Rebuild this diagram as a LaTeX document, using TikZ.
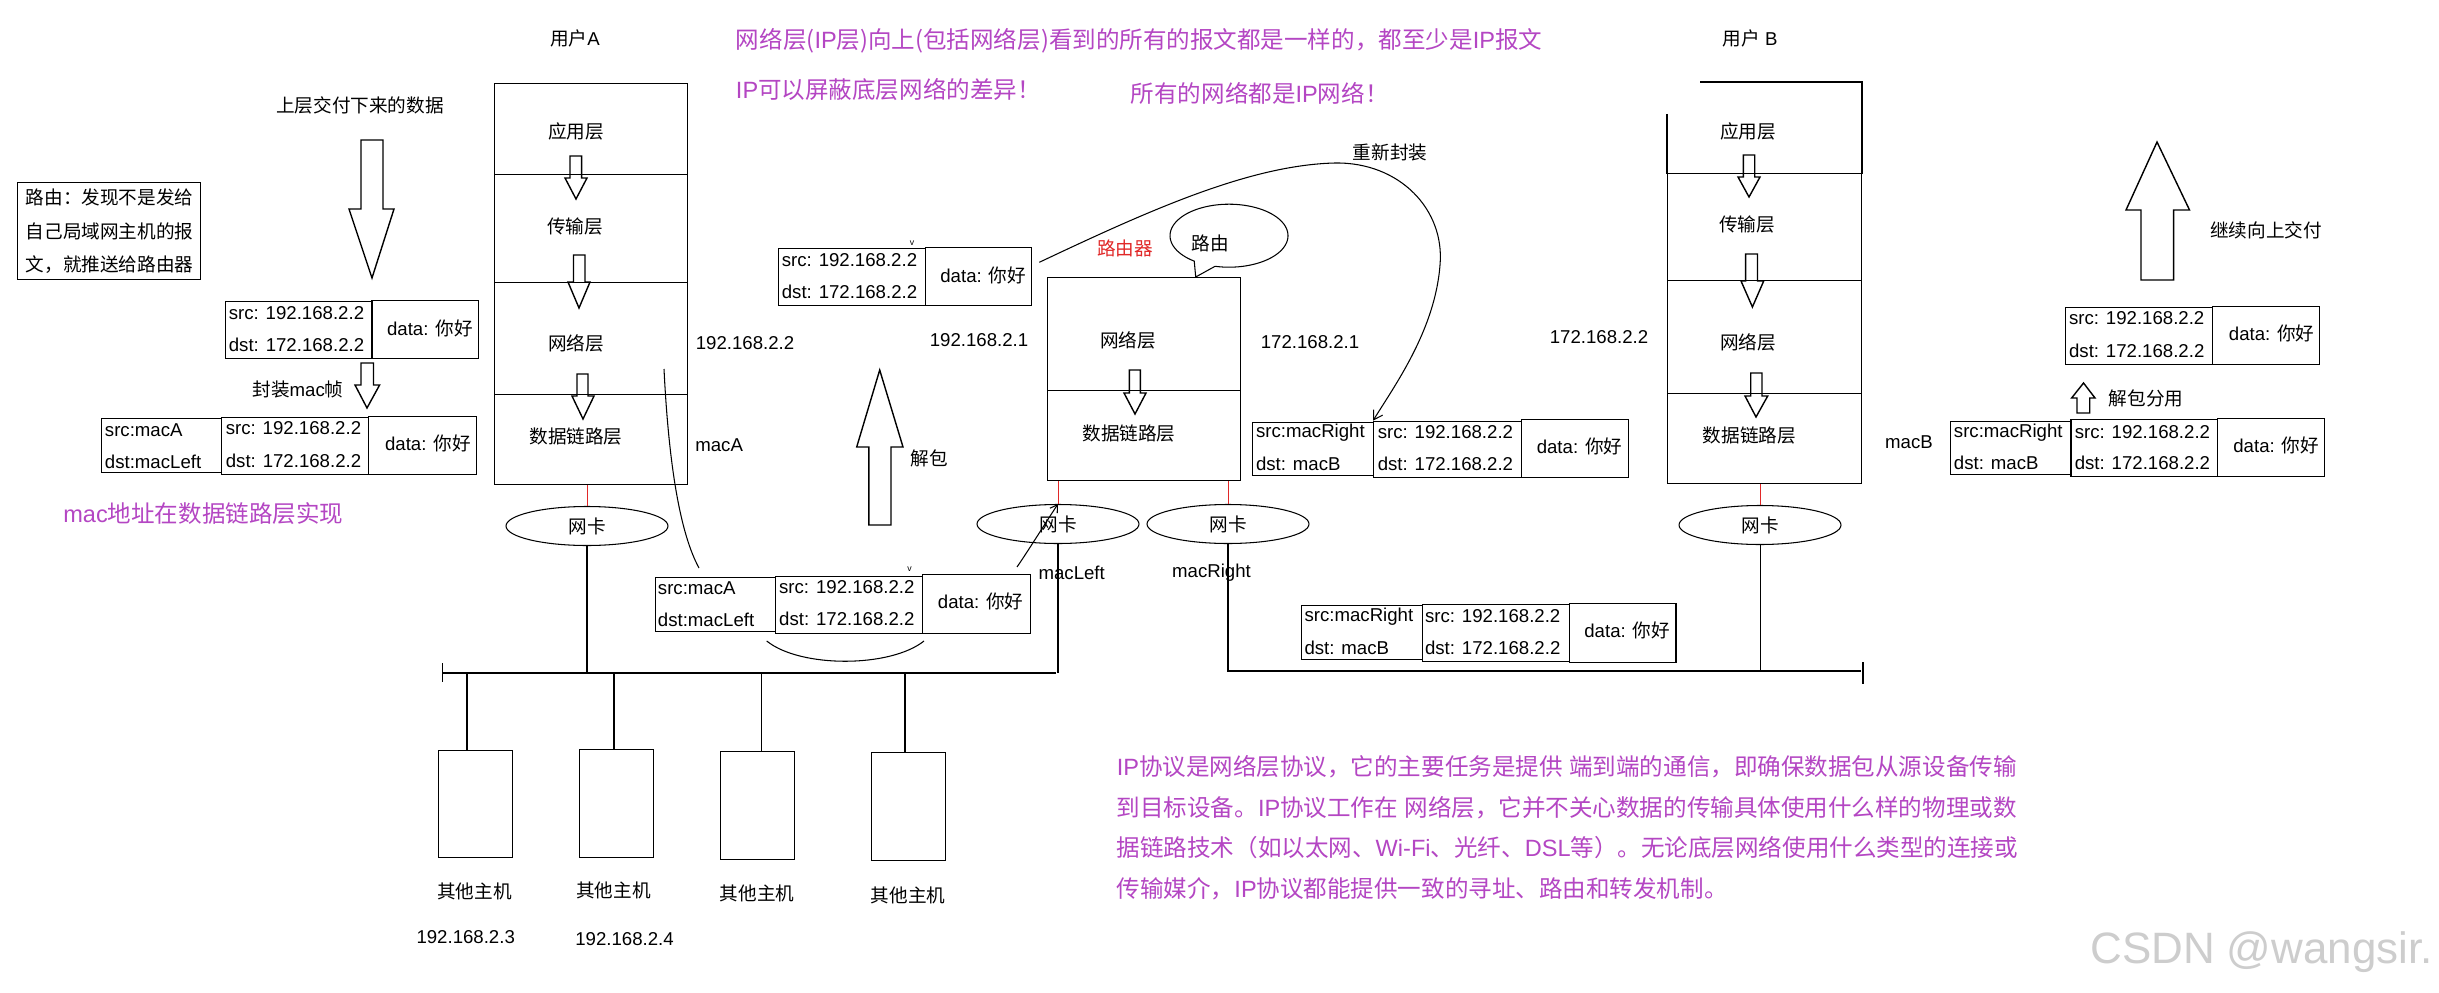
\documentclass[tikz,border=0pt]{standalone}
\usepackage{fontspec}
\setmainfont{Liberation Sans}
\newfontfamily\cjk{Noto Sans CJK SC}
\newcommand\zh[1]{{\cjk #1}}
\usetikzlibrary{shapes.geometric,arrows.meta}
\definecolor{mag}{RGB}{180,70,195}
\definecolor{rred}{RGB}{225,40,40}
\definecolor{wmk}{RGB}{205,205,205}
\newcommand\cellR[5]{\node[box,minimum width={(#4-#2)*0.02cm},minimum height={(#5-#3)*0.02cm}] (#1) at (#2,#3) {};}
\newcommand\blkarrow[8]{\draw[ln] (#1,#3) -- (#2,#3) -- (#2,#4) -- (#6,#4) -- (#7,#8) -- (#5,#4) -- (#1,#4) -- cycle;}
\begin{document}
\begin{tikzpicture}[x=0.02cm,y=-0.02cm,
  ln/.style={line width=0.8pt},
  thinln/.style={line width=0.6pt},
  box/.style={draw,line width=0.8pt,inner sep=0pt,anchor=north west},
  txt/.style={font=\fontsize{10.6}{13}\selectfont,inner sep=0pt},
  lt/.style={txt,anchor=west},
  ttl/.style={font=\fontsize{13.4}{16}\selectfont,text=mag,inner sep=0pt,anchor=west},
  nic/.style={ellipse,draw,line width=0.6pt,minimum width=3.24cm,minimum height=0.78cm,inner sep=0pt,font=\fontsize{10.6}{13}\selectfont},
  redln/.style={draw=rred,line width=0.5pt},
  barb/.style={-{Straight Barb[length=5pt,width=6pt]}},
  barbs/.style={-{Straight Barb[length=4pt,width=5pt]}}
]
\fill[white] (0,0) rectangle (2439,993);
\useasboundingbox (0,0) rectangle (2439,993);

% ---------- titles ----------
\node[ttl] (t1) at (735.6,41) {\zh{网络层(}IP\zh{层)向上(包括网络层)看到的所有的报文都是一样的，都至少是}IP\zh{报文}};
\node[ttl] (t2) at (735.6,90) {IP\zh{可以屏蔽底层网络的差异！}};
\node[ttl] (t3) at (1130.5,93) {\zh{所有的网络都是}IP\zh{网络！}};
\node[ttl] (t4) at (63,514) {mac\zh{地址在数据链路层实现}};

% ---------- user labels ----------
\node[txt] (uA) at (575,38) {\zh{用户}A};
\node[txt] (uB) at (1750,38) {\zh{用户} B};
\node[txt] (down) at (360,105) {\zh{上层交付下来的数据}};

% ---------- routing note ----------
\cellR{rt}{17}{182}{200}{279}
\node[lt,align=left,font=\fontsize{10.6}{19}\selectfont] (rtxt) at (25.5,231.5) {\zh{路由：发现不是发给}\\\zh{自己局域网主机的报}\\\zh{文，就推送给路由器}};

% ---------- big arrows ----------
\blkarrow{361}{383}{140}{209}{349}{394}{372}{278}
\blkarrow{361}{373.5}{363}{385}{355}{379.6}{367}{408}
\node[txt] (fz) at (298,389) {\zh{封装}mac\zh{帧}};
\blkarrow{868.8}{891}{525}{447}{856.7}{903}{879.7}{370}
\node[txt] (jb) at (929,458) {\zh{解包}};
\blkarrow{2141}{2173.6}{280}{210}{2126}{2189.5}{2157}{142}
\node[txt] (jx) at (2266,230) {\zh{继续向上交付}};
\blkarrow{2077}{2089.7}{413}{398}{2071.6}{2095}{2083.5}{383}
\node[txt] (jbf) at (2146,398) {\zh{解包分用}};

% ---------- user A stack ----------
\cellR{a1}{494}{83}{687}{174}
\cellR{a2}{494}{174}{687}{282}
\cellR{a3}{494}{282}{687}{394}
\cellR{a4}{494}{394}{687}{484}
\blkarrow{570}{581.6}{156}{178}{565}{587}{576}{199}
\blkarrow{573.5}{585}{255}{282}{568}{590}{579}{308}
\blkarrow{577}{588}{374}{396}{572}{594}{583}{419}
\node[txt] (la1) at (576,131) {\zh{应用层}};
\node[txt] (la2) at (575,226) {\zh{传输层}};
\node[txt] (la3) at (576,343) {\zh{网络层}};
\node[txt] (la4) at (576,436) {\zh{数据链路层}};
\node[txt] (ipA) at (745,343) {192.168.2.2};
\node[lt] (macA) at (695,445) {macA};

% ---------- router ----------
\cellR{r1}{1046.7}{277}{1239.6}{390}
\cellR{r2}{1046.7}{390}{1239.6}{480}
\blkarrow{1129.4}{1140.3}{370}{393}{1124}{1146}{1135}{414}
\node[txt] (lr1) at (1128,340) {\zh{网络层}};
\node[txt] (lr2) at (1129,433) {\zh{数据链路层}};
\node[txt,text=rred] (lrt) at (1125,248) {\zh{路由器}};
\coordinate (bt) at (1195.7,277);
\draw[thinln] plot[domain=126.1:463.7,samples=90] ({1229+59*cos(\x)},{235.7+31.5*sin(\x)}) -- (bt) -- cycle;
\node[txt] (ly) at (1210,243) {\zh{路由}};
\node[txt] (ipR1) at (979,340) {192.168.2.1};
\node[txt] (ipR2) at (1310,342) {172.168.2.1};
\node[txt] (ipB) at (1599,337) {172.168.2.2};

% ---------- user B stack ----------
\node[box,draw=none,minimum width={(1860.7-1667)*0.02cm},minimum height={(173-82)*0.02cm}] (b1) at (1667,82) {};
\draw[ln] (1700,82) -- (b1.north east) -- (b1.south east);
\draw[ln] (1667,114) -- (b1.south west);
\cellR{b2}{1667}{173}{1860.7}{280}
\cellR{b3}{1667}{280}{1860.7}{393}
\cellR{b4}{1667}{393}{1860.7}{483}
\blkarrow{1743.3}{1754.7}{155}{177}{1738}{1760}{1749}{197}
\blkarrow{1745.6}{1757.5}{254}{281}{1741}{1763.7}{1752.4}{307}
\blkarrow{1750.7}{1762}{373}{396}{1745}{1767.7}{1756}{417}
\node[txt] (lb1) at (1748,131) {\zh{应用层}};
\node[txt] (lb2) at (1747,224) {\zh{传输层}};
\node[txt] (lb3) at (1748,342) {\zh{网络层}};
\node[txt] (lb4) at (1749.5,435) {\zh{数据链路层}};
\node[txt] (macB) at (1909,442) {macB};

% ---------- packets ----------
% P1
\cellR{p1i}{224.5}{301}{371.4}{358}
\cellR{p1d}{371.4}{300}{478}{358}
\node[lt] (p1s) at (228.5,313) {src: 192.168.2.2};
\node[lt] (p1t) at (228.5,345) {dst: 172.168.2.2};
\node[lt] (p1x) at (386.7,328) {data: \zh{你好}};
% F1
\cellR{f1m}{100.5}{418}{221}{472}
\cellR{f1i}{221}{417}{368}{474}
\cellR{f1d}{368}{416}{475.5}{474}
\node[lt] (f1a) at (104.6,430) {src:macA};
\node[lt] (f1b) at (104.6,462) {dst:macLeft};
\node[lt] (f1s) at (225.5,428) {src: 192.168.2.2};
\node[lt] (f1t) at (225.5,461) {dst: 172.168.2.2};
\node[lt] (f1x) at (384.7,443) {data: \zh{你好}};
% P2
\cellR{p2i}{777.5}{247.7}{925}{305}
\cellR{p2d}{925}{247}{1031}{305}
\node[lt] (p2s) at (781.5,260) {src: 192.168.2.2};
\node[lt] (p2t) at (781.5,292) {dst: 172.168.2.2};
\node[lt] (p2x) at (940,275) {data: \zh{你好}};
\node[txt,font=\fontsize{5}{6}\selectfont] (v1) at (912,243) {v};
% F2
\cellR{f2m}{654.5}{576.7}{775}{630.7}
\cellR{f2i}{775}{575.7}{921.7}{632.7}
\cellR{f2d}{921.7}{574}{1029.5}{632.7}
\node[lt] (f2a) at (657.6,587.7) {src:macA};
\node[lt] (f2b) at (657.6,620) {dst:macLeft};
\node[lt] (f2s) at (778.8,586.7) {src: 192.168.2.2};
\node[lt] (f2t) at (778.8,619.3) {dst: 172.168.2.2};
\node[lt] (f2x) at (937.6,601.7) {data: \zh{你好}};
\node[txt,font=\fontsize{5}{6}\selectfont] (v2) at (909.6,569) {v};
% F3
\cellR{f3m}{1252}{421.7}{1373}{475}
\cellR{f3i}{1373}{420.7}{1521}{476.7}
\cellR{f3d}{1521}{419}{1627.7}{477}
\node[lt] (f3a) at (1255.7,432.7) {src:macRight};
\node[lt] (f3b) at (1255.7,464) {dst: macB};
\node[lt] (f3s) at (1377.4,431.7) {src: 192.168.2.2};
\node[lt] (f3t) at (1377.4,464) {dst: 172.168.2.2};
\node[lt] (f3x) at (1536.4,446.7) {data: \zh{你好}};
% F4
\cellR{f4m}{1300.7}{605}{1422}{659}
\cellR{f4i}{1422}{604}{1569}{661}
\cellR{f4d}{1569}{603}{1675.4}{661.7}
\node[lt] (f4a) at (1304.2,616.7) {src:macRight};
\node[lt] (f4b) at (1304.2,648) {dst: macB};
\node[lt] (f4s) at (1424.7,616) {src: 192.168.2.2};
\node[lt] (f4t) at (1424.7,648) {dst: 172.168.2.2};
\node[lt] (f4x) at (1584,630) {data: \zh{你好}};
% P3
\cellR{p3i}{2065}{307}{2212}{364}
\cellR{p3d}{2212}{306}{2318.7}{364}
\node[lt] (p3s) at (2068.7,318) {src: 192.168.2.2};
\node[lt] (p3t) at (2068.7,351) {dst: 172.168.2.2};
\node[lt] (p3x) at (2228.6,333) {data: \zh{你好}};
% F5
\cellR{f5m}{1949.7}{420.7}{2070.4}{474}
\cellR{f5i}{2070.4}{419}{2217}{476}
\cellR{f5d}{2217}{418}{2324}{476}
\node[lt] (f5a) at (1953.6,432.7) {src:macRight};
\node[lt] (f5b) at (1953.6,462.7) {dst: macB};
\node[lt] (f5s) at (2074.4,431.7) {src: 192.168.2.2};
\node[lt] (f5t) at (2074.4,463.3) {dst: 172.168.2.2};
\node[lt] (f5x) at (2233,445) {data: \zh{你好}};

% ---------- NICs ----------
\node[nic] (nicA) at (587,526) {\zh{网卡}};
\node[nic] (nicL) at (1058,524) {\zh{网卡}};
\node[nic] (nicR) at (1228,524) {\zh{网卡}};
\node[nic] (nicB) at (1760,525) {\zh{网卡}};
\draw[redln] (nicA.north |- a4.south) -- (nicA.north);
\draw[redln] (nicL.north |- r2.south) -- (nicL.north);
\draw[redln] (nicR.north |- r2.south) -- (nicR.north);
\draw[redln] (nicB.north |- b4.south) -- (nicB.north);
\node[txt] (mL) at (1071.7,572.7) {macLeft};
\node[txt] (mR) at (1211.5,572.7) {macRight};

% ---------- buses ----------
\coordinate (busL0) at (442.7,673);
\coordinate (busL1) at (1056,673);
\coordinate (busR0) at (1227,671);
\coordinate (busR1) at (1860.5,671);
\draw[ln] (busL0) -- (busL1);
\draw[ln] (442.7,663) -- (442.7,682);
\draw[ln] (busR0) -- (busR1);
\draw[ln] (1863,662) -- (1863,684);
\draw[thinln] (nicA.south) -- (nicA.south |- busL0);
\draw[thinln] (nicL.south) -- (nicL.south |- busL0);
\draw[thinln] (nicR.south) -- (nicR.south |- busR0);
\draw[thinln] (nicB.south) -- (nicB.south |- busR0);

% ---------- hosts ----------
\cellR{h1}{437.6}{750}{511.6}{857}
\cellR{h2}{579}{749}{653}{857}
\cellR{h3}{720}{751}{794}{859}
\cellR{h4}{871}{752}{945}{860}
\coordinate (hd1) at (467,673);
\coordinate (hd2) at (614,673);
\coordinate (hd3) at (761.6,673);
\coordinate (hd4) at (905,673);
\draw[thinln] (hd1) -- (hd1 |- h1.north);
\draw[thinln] (hd2) -- (hd2 |- h2.north);
\draw[thinln] (hd3) -- (hd3 |- h3.north);
\draw[thinln] (hd4) -- (hd4 |- h4.north);
\node[txt] (hl1) at (474.6,891.7) {\zh{其他主机}};
\node[txt] (hl2) at (613.6,890) {\zh{其他主机}};
\node[txt] (hl3) at (757,893) {\zh{其他主机}};
\node[txt] (hl4) at (908,895) {\zh{其他主机}};
\node[txt] (hip1) at (465.7,936.7) {192.168.2.3};
\node[txt] (hip2) at (624.5,939) {192.168.2.4};

% ---------- curves ----------
\coordinate (c1s) at (664,369);
\coordinate (c1e) at (699,568);
\draw[thinln] (c1s) .. controls (669,470) and (681,535) .. (c1e);
\coordinate (c2s) at (766.7,641);
\coordinate (c2e) at (924,641);
\draw[thinln] (c2s) .. controls (800,668) and (890,668) .. (c2e);
\coordinate (c3s) at (1017,567);
\draw[thinln,barbs] (c3s) .. controls (1030,548) and (1046,522) .. (nicL.north);
\coordinate (c4s) at (1039.3,262.3);
\draw[thinln,barb] (c4s) .. controls (1150,210) and (1250,165) .. (1335,163) .. controls (1400,162) and (1445,210) .. (1440,265) .. controls (1435,330) and (1395,385) .. (f3i.north west);
\node[txt] (cf) at (1390,152) {\zh{重新封装}};

% ---------- paragraph ----------
\node[ttl] (q1) at (1116.4,766.7) {IP\zh{协议是网络层协议，它的主要任务是提供} \zh{端到端的通信，即确保数据包从源设备传输}};
\node[ttl] (q2) at (1116.4,808) {\zh{到目标设备。}IP\zh{协议工作在} \zh{网络层，它并不关心数据的传输具体使用什么样的物理或数}};
\node[ttl] (q3) at (1116.4,848) {\zh{据链路技术（如以太网、}Wi-Fi\zh{、光纤、}DSL\zh{等）。无论底层网络使用什么类型的连接或}};
\node[ttl] (q4) at (1116.4,889) {\zh{传输媒介，}IP\zh{协议都能提供一致的寻址、路由和转发机制。}};

% ---------- watermark ----------
\node[anchor=west,inner sep=0pt,font=\fontsize{25}{28}\selectfont,text=wmk] (wm) at (2090,952) {CSDN @wangsir.};
\end{tikzpicture}
\end{document}
